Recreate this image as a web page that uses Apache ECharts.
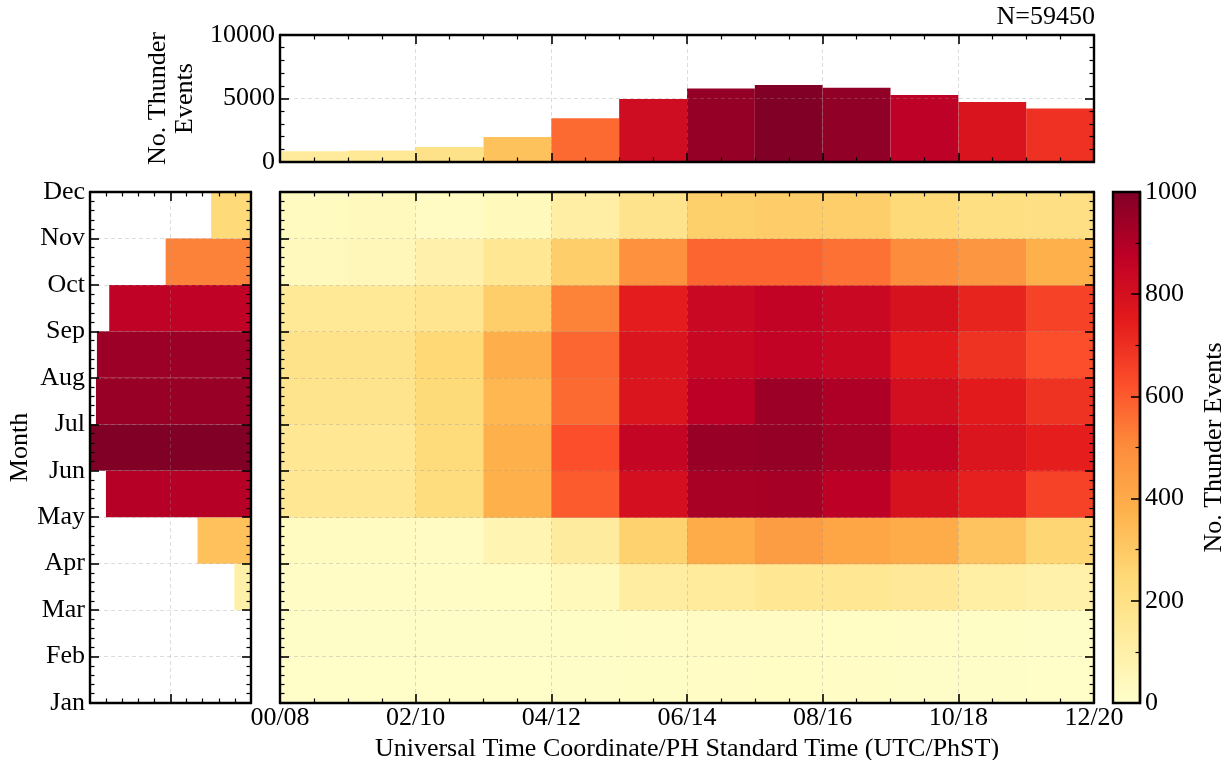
<!DOCTYPE html>
<html>
<head>
<meta charset="utf-8">
<title>Thunder events by hour and month</title>
<script src="https://cdn.jsdelivr.net/npm/echarts@6/dist/echarts.min.js"></script>
<style>
  html, body { margin: 0; padding: 0; background: #fff; }
  #chart { width: 1231px; height: 760px; }
</style>
</head>
<body>
<div id="chart"></div>
<script>
// ---- data ----------------------------------------------------------------
// x tick labels: UTC hour / PH Standard Time hour
const hourTickLabels = ['00/08', '02/10', '04/12', '06/14', '08/16', '10/18', '12/20'];
const monthLabels = ['Jan', 'Feb', 'Mar', 'Apr', 'May', 'Jun', 'Jul', 'Aug', 'Sep', 'Oct', 'Nov', 'Dec'];

// start of each hourly bin (UTC)
const hourBins = [0, 1, 2, 3, 4, 5, 6, 7, 8, 9, 10, 11];
// thunder events per hourly bin
const hourlyTotals = [840, 915, 1175, 1960, 3445, 4965, 5795, 6060, 5850, 5280, 4730, 4205];

// start of each monthly bin (1 = Jan ... 11 = Nov, last bin closes at Dec)
const monthBins = [1, 2, 3, 4, 5, 6, 7, 8, 9, 10, 11];
// thunder events per monthly bin
const monthlyTotals = [40, 60, 1035, 3320, 9010, 10150, 9630, 9570, 8805, 5300, 2475];

// events per (month bin, hour bin); one row per month bin, Jan first
const countsJan = [12, 12, 12, 12, 14, 16, 20, 22, 18, 15, 13, 12];
const countsFeb = [14, 14, 14, 14, 16, 20, 25, 27, 24, 20, 16, 14];
const countsMar = [18, 18, 18, 22, 45, 120, 140, 160, 165, 150, 110, 100];
const countsApr = [30, 30, 25, 75, 135, 270, 395, 445, 420, 395, 320, 260];
const countsMay = [165, 165, 225, 380, 600, 800, 915, 920, 875, 790, 735, 655];
const countsJun = [165, 165, 235, 380, 625, 850, 950, 960, 925, 855, 775, 740];
const countsJul = [180, 180, 240, 360, 570, 775, 875, 940, 905, 805, 750, 690];
const countsAug = [190, 190, 250, 385, 575, 775, 840, 860, 840, 750, 690, 625];
const countsSep = [155, 155, 175, 285, 520, 745, 835, 860, 835, 790, 725, 655];
const countsOct = [40, 55, 95, 160, 285, 485, 580, 580, 555, 500, 470, 380];
const countsNov = [35, 40, 25, 45, 115, 185, 280, 290, 285, 245, 215, 210];
const monthRows = [countsJan, countsFeb, countsMar, countsApr, countsMay, countsJun,
                   countsJul, countsAug, countsSep, countsOct, countsNov];

const totalEvents = 59450;
const colorMax = 1000;
const binWidth = 1;

// ---- style ---------------------------------------------------------------
const FONT = "'Liberation Serif', 'DejaVu Serif', 'Times New Roman', serif";
const FS = 26;
const YLORRD = ['#ffffcc', '#ffeda0', '#fed976', '#feb24c', '#fd8d3c',
                '#fc4e2a', '#e31a1c', '#bd0026', '#800026'];

const axisLineStyle = { show: true, onZero: false, lineStyle: { color: '#000', width: 2.4 } };
const majorTick = { show: true, inside: true, length: 9, lineStyle: { color: '#000', width: 1.6 } };
const minorTick = n => ({ show: true, splitNumber: n, length: 4.5, lineStyle: { color: '#000', width: 1.2 } });
const gridLine = { show: true, lineStyle: { color: 'rgba(150,150,150,0.32)', width: 1, type: [4, 3] } };
const noGrid = { show: false };
const labelStyle = { color: '#000', fontFamily: FONT, fontSize: FS };
const nameStyle = { color: '#000', fontFamily: FONT, fontSize: FS, lineHeight: 27 };
const plain = v => String(v);

function axis(base) {
  return Object.assign({
    type: 'value',
    z: 5,
    axisLine: axisLineStyle,
    axisTick: majorTick,
    axisLabel: { show: false },
    splitLine: noGrid,
    minorSplitLine: { show: false }
  }, base);
}

function panel(rect) {
  return Object.assign({ outerBoundsMode: 'none', containLabel: false }, rect);
}

// ---- series data ---------------------------------------------------------
const hourData = hourBins.map((h, i) => [h, hourlyTotals[i]]);
const monthData = monthBins.map((m, i) => [m, monthlyTotals[i]]);
const heatData = [];
monthRows.forEach((row, r) => {
  row.forEach((v, c) => heatData.push([hourBins[c], monthBins[r], v]));
});

const gradientStops = YLORRD.map((c, i) => ({ offset: i / (YLORRD.length - 1), color: c }));

// ---- chart ---------------------------------------------------------------
const chart = echarts.init(document.getElementById('chart'), null, { renderer: 'canvas' });

const option = {
  animation: false,
  backgroundColor: '#fff',
  title: {
    text: 'N=' + totalEvents,
    right: 136,
    top: 4,
    padding: 0,
    textStyle: { color: '#000', fontFamily: FONT, fontSize: FS, fontWeight: 'normal' }
  },
  grid: [
    panel({ left: 280, top: 35, width: 814, height: 127 }),   // hourly histogram
    panel({ left: 90, top: 192, width: 161, height: 511 }),   // monthly histogram
    panel({ left: 280, top: 192, width: 814, height: 511 }),  // hour x month heatmap
    panel({ left: 1113, top: 192, width: 27, height: 511 })   // colour bar
  ],
  xAxis: [
    axis({ gridIndex: 0, position: 'bottom', min: 0, max: 12, interval: 2, minorTick: minorTick(4), splitLine: gridLine }),
    axis({ gridIndex: 0, position: 'top', min: 0, max: 12, interval: 2, minorTick: minorTick(4) }),
    axis({ gridIndex: 1, position: 'bottom', min: 0, max: 10000, interval: 5000, inverse: true, minorTick: minorTick(5), splitLine: gridLine }),
    axis({ gridIndex: 1, position: 'top', min: 0, max: 10000, interval: 5000, inverse: true, minorTick: minorTick(5) }),
    axis({
      gridIndex: 2, position: 'bottom', min: 0, max: 12, interval: 2, minorTick: minorTick(4), splitLine: gridLine,
      axisLabel: Object.assign({ show: true, margin: 2, formatter: v => hourTickLabels[v / 2] }, labelStyle),
      name: 'Universal Time Coordinate/PH Standard Time (UTC/PhST)',
      nameLocation: 'middle', nameGap: 28, nameTextStyle: nameStyle
    }),
    axis({ gridIndex: 2, position: 'top', min: 0, max: 12, interval: 2, minorTick: minorTick(4) }),
    axis({ gridIndex: 3, position: 'bottom', min: 0, max: 1, show: false })
  ],
  yAxis: [
    axis({
      gridIndex: 0, position: 'left', min: 0, max: 10000, interval: 5000, minorTick: minorTick(5), splitLine: gridLine,
      axisLabel: Object.assign({ show: true, margin: 5, formatter: plain }, labelStyle),
      name: 'No. Thunder\nEvents', nameLocation: 'middle', nameGap: 74, nameTextStyle: nameStyle
    }),
    axis({ gridIndex: 0, position: 'right', min: 0, max: 10000, interval: 5000, minorTick: minorTick(5) }),
    axis({
      gridIndex: 1, position: 'left', min: 1, max: 12, interval: 1, minorTick: minorTick(5), splitLine: gridLine,
      axisLabel: Object.assign({ show: true, margin: 5, formatter: v => monthLabels[v - 1] }, labelStyle),
      name: 'Month', nameLocation: 'middle', nameGap: 56, nameTextStyle: nameStyle
    }),
    axis({ gridIndex: 1, position: 'right', min: 1, max: 12, interval: 1, minorTick: minorTick(5) }),
    axis({ gridIndex: 2, position: 'left', min: 1, max: 12, interval: 1, minorTick: minorTick(5), splitLine: gridLine }),
    axis({ gridIndex: 2, position: 'right', min: 1, max: 12, interval: 1, minorTick: minorTick(5) }),
    axis({
      gridIndex: 3, position: 'right', min: 0, max: colorMax, interval: 200, minorTick: minorTick(2),
      axisLabel: Object.assign({ show: true, margin: 5, formatter: plain }, labelStyle),
      name: 'No. Thunder Events', nameLocation: 'middle', nameGap: 58, nameTextStyle: nameStyle
    })
  ],
  visualMap: [
    { type: 'continuous', show: false, seriesIndex: 0, dimension: 1, min: 0, max: Math.max(...hourlyTotals), inRange: { color: YLORRD } },
    { type: 'continuous', show: false, seriesIndex: 1, dimension: 1, min: 0, max: Math.max(...monthlyTotals), inRange: { color: YLORRD } },
    { type: 'continuous', show: false, seriesIndex: 2, dimension: 2, min: 0, max: colorMax, inRange: { color: YLORRD } }
  ],
  series: [
    {
      // hourly histogram
      type: 'custom', xAxisIndex: 0, yAxisIndex: 0, clip: true,
      data: hourData,
      renderItem: (params, api) => {
        const a = api.coord([api.value(0), 0]);
        const b = api.coord([api.value(0) + binWidth, api.value(1)]);
        return { type: 'rect', shape: { x: a[0], y: b[1], width: b[0] - a[0], height: a[1] - b[1] },
                 style: { fill: api.visual('color') } };
      }
    },
    {
      // monthly histogram, bars grow leftwards
      type: 'custom', xAxisIndex: 2, yAxisIndex: 2, clip: true,
      data: monthData,
      renderItem: (params, api) => {
        const a = api.coord([0, api.value(0)]);
        const b = api.coord([api.value(1), api.value(0) + binWidth]);
        const x0 = Math.min(a[0], b[0]), x1 = Math.max(a[0], b[0]);
        const y0 = Math.min(a[1], b[1]), y1 = Math.max(a[1], b[1]);
        return { type: 'rect', shape: { x: x0, y: y0, width: x1 - x0, height: y1 - y0 },
                 style: { fill: api.visual('color') } };
      }
    },
    {
      // heatmap cells
      type: 'custom', xAxisIndex: 4, yAxisIndex: 4, clip: true,
      data: heatData,
      renderItem: (params, api) => {
        const a = api.coord([api.value(0), api.value(1)]);
        const b = api.coord([api.value(0) + binWidth, api.value(1) + binWidth]);
        const x0 = Math.min(a[0], b[0]), y0 = Math.min(a[1], b[1]);
        return { type: 'rect',
                 shape: { x: x0, y: y0, width: Math.abs(b[0] - a[0]) + 0.5, height: Math.abs(b[1] - a[1]) + 0.5 },
                 style: { fill: api.visual('color') } };
      }
    },
    {
      // colour bar
      type: 'custom', xAxisIndex: 6, yAxisIndex: 6, clip: false,
      data: [[0, colorMax]],
      renderItem: (params, api) => {
        const a = api.coord([0, 0]);
        const b = api.coord([1, api.value(1)]);
        return { type: 'rect', shape: { x: a[0], y: b[1], width: b[0] - a[0], height: a[1] - b[1] },
                 style: { fill: new echarts.graphic.LinearGradient(0, 1, 0, 0, gradientStops),
                          stroke: '#000', lineWidth: 2.4 } };
      }
    }
  ]
};

chart.setOption(option);
</script>
</body>
</html>
